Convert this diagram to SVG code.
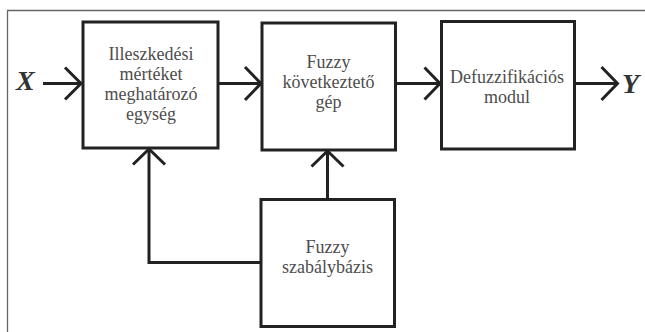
<svg xmlns="http://www.w3.org/2000/svg" width="645" height="332" viewBox="0 0 645 332">
<style>
.box{fill:#fff;stroke:#222;stroke-width:3}
.ln{fill:none;stroke:#222;stroke-width:3}
.ah{fill:none;stroke:#222;stroke-width:3;stroke-linejoin:miter}
.t{font-family:"Liberation Serif","Times New Roman",serif;font-size:18px;fill:#4d4d4d;text-anchor:middle}
.io{font-family:"Liberation Serif","Times New Roman",serif;font-size:28px;font-style:italic;font-weight:bold;fill:#333}
</style>
<rect width="645" height="332" fill="#fff"/>
<path d="M7.5,332 V10.5 H645" fill="none" stroke="#666" stroke-width="1.3"/>
<g id="connectors">
<path class="ln" d="M43,83.5 H81"/>
<path class="ah" d="M65,67.5 L81,83.5 L65,99.5"/>
<path class="ln" d="M218,83.5 H260"/>
<path class="ah" d="M245,67 L261,83.5 L245,100"/>
<path class="ln" d="M395.5,83.5 H439"/>
<path class="ah" d="M424.5,67.5 L440,83.5 L424.5,99.5"/>
<path class="ln" d="M574.5,83.5 H616"/>
<path class="ah" d="M601.5,67 L617.5,83.5 L601.5,100"/>
<path class="ln" d="M261,262.5 H149 V150"/>
<path class="ah" d="M133,164.5 L149,149 L165,164.5"/>
<path class="ln" d="M327.5,199.5 V152"/>
<path class="ah" d="M311.5,166.5 L327.5,151 L343.5,166.5"/>
</g>
<text class="io" x="16" y="90">X</text>
<text class="io" x="622" y="93">Y</text>
<g id="illeszkedes">
<rect class="box" x="83" y="22" width="135" height="126"/>
<text class="t" x="151" y="60">Illeszkedési</text>
<text class="t" x="151" y="80">mértéket</text>
<text class="t" x="151" y="100">meghatározó</text>
<text class="t" x="151" y="120">egység</text>
</g>
<g id="kovetkezteto">
<rect class="box" x="262" y="23" width="133.5" height="127"/>
<text class="t" x="328.5" y="68">Fuzzy</text>
<text class="t" x="328.5" y="88">következtető</text>
<text class="t" x="328.5" y="108">gép</text>
</g>
<g id="defuzz">
<rect class="box" x="441.5" y="21.5" width="133" height="127.5"/>
<text class="t" x="507" y="83">Defuzzifikációs</text>
<text class="t" x="507" y="103">modul</text>
</g>
<g id="szabalybazis">
<rect class="box" x="261" y="199.5" width="133.5" height="127"/>
<text class="t" x="327.5" y="253">Fuzzy</text>
<text class="t" x="327.5" y="273">szabálybázis</text>
</g>
</svg>
